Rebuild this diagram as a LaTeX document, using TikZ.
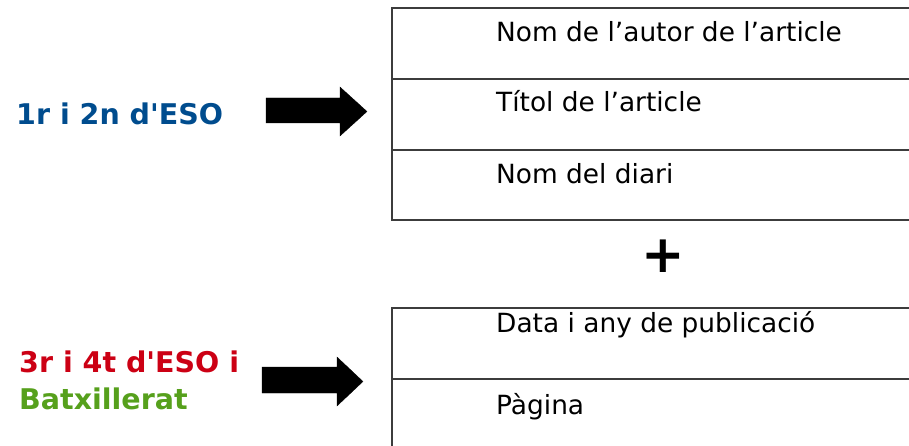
\documentclass[tikz,border=0pt]{standalone}
\usepackage{fontspec}
\setmainfont{DejaVu Sans}[Ligatures=TeXOff]
\definecolor{lblblue}{RGB}{0,76,142}
\definecolor{lblred}{RGB}{204,0,20}
\definecolor{lblgreen}{RGB}{86,160,28}
\definecolor{rulegray}{RGB}{60,60,60}
\begin{document}
\begin{tikzpicture}[x=1pt,y=-1pt,
  celltext/.style={anchor=base west,inner sep=0pt,font=\fontsize{26.4}{31}\selectfont},
  lvl/.style={anchor=base west,inner sep=0pt,font=\fontsize{28.5}{34}\selectfont\bfseries},
  rowline/.style={draw=rulegray,line width=1.3pt},
  bigarrow/.style={fill=black,draw=black,line width=0.3pt,line join=miter}]
\useasboundingbox (0,0) rectangle (909,446);
% labels
\node[lvl,text=lblblue] (l1) at (16,125) {1r i 2n d'ESO};
\node[lvl,text=lblred] (l2) at (19,372) {3r i 4t d'ESO i};
\node[lvl,text=lblgreen] (l3) at (19,409) {Batxillerat};
% arrows
\fill[bigarrow] (266,98) -- (340,98) -- (340,87) -- (367,111.5) -- (340,136) -- (340,123) -- (266,123) -- cycle;
\fill[bigarrow] (262,367) -- (337,367) -- (337,357) -- (363,381.5) -- (337,406) -- (337,393) -- (262,393) -- cycle;
% first table
\draw[rowline] (912,8) -- (392,8) -- (392,220) -- (912,220);
\draw[rowline] (392,79) -- (912,79);
\draw[rowline] (392,150) -- (912,150);
\node[celltext] (c1) at (496,42) {Nom de l’autor de l’article};
\node[celltext] (c2) at (496,112) {Títol de l’article};
\node[celltext] (c3) at (496,184) {Nom del diari};
% plus
\node[inner sep=0pt,font=\fontsize{52}{60}\selectfont\bfseries] (plus) at (663.5,256.5) {+};
% second table
\draw[rowline] (912,308) -- (392,308) -- (392,450);
\draw[rowline] (392,379) -- (912,379);
\node[celltext] (c4) at (496,332) {Data i any de publicació};
\node[celltext] (c5) at (496,414) {Pàgina};
\end{tikzpicture}
\end{document}
